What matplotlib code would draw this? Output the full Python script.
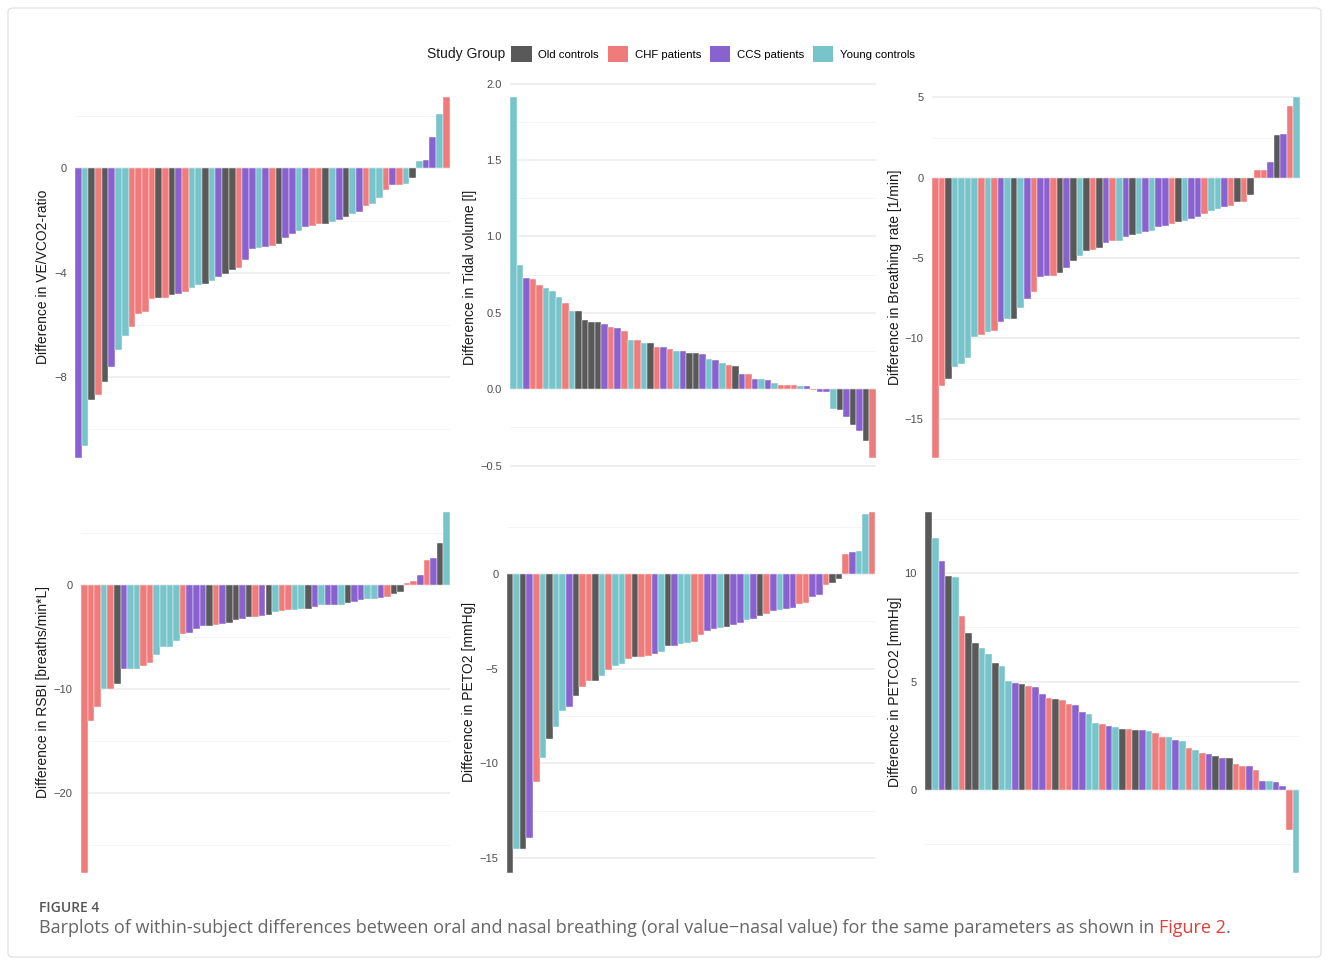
import matplotlib
matplotlib.use("Agg")
from matplotlib import pyplot as plt
from matplotlib.patches import Patch, FancyBboxPatch

W, H = 1329, 961

groups = ["Old controls", "CHF patients", "CCS patients", "Young controls"]
group_colors = {"O": "#595959", "C": "#F07B7B", "S": "#8A62CF", "Y": "#77C4CA"}

# panel 1: VE/VCO2-ratio
ve_vals = [-11.1, -10.65, -8.88, -8.69, -8.2, -7.6, -6.96, -6.43, -6.07, -5.58,
           -5.5, -5.0, -4.96, -4.96, -4.86, -4.82, -4.73, -4.6, -4.47, -4.42,
           -4.32, -4.15, -4.04, -3.9, -3.8, -3.51, -3.1, -3.04, -3.0, -2.98,
           -2.9, -2.68, -2.52, -2.39, -2.24, -2.2, -2.15, -2.13, -2.07, -1.96,
           -1.87, -1.73, -1.66, -1.43, -1.38, -1.12, -0.83, -0.63, -0.63, -0.61,
           -0.37, 0.28, 0.31, 1.21, 2.1, 2.75]
ve_grp = "SYOCOSYYCC" "CCOCOSCYYO" "YSOOCSSYSC" "OSSYSCCOYS" "OYSCYYCSCY" "OYSSYC"

# panel 2: tidal volume
vt_vals = [1.915, 0.812, 0.731, 0.72, 0.681, 0.662, 0.642, 0.603, 0.561, 0.509,
           0.509, 0.452, 0.441, 0.441, 0.43, 0.41, 0.402, 0.38, 0.321, 0.321,
           0.301, 0.301, 0.279, 0.279, 0.26, 0.251, 0.251, 0.24, 0.24, 0.229,
           0.2, 0.19, 0.17, 0.157, 0.151, 0.1, 0.1, 0.068, 0.068, 0.057,
           0.039, 0.028, 0.028, 0.028, 0.02, 0.02, -0.005, -0.02, -0.02, -0.127,
           -0.133, -0.183, -0.234, -0.275, -0.34, -0.45]
vt_grp = "YYSCCYYYCY" "OOOOSCSCYC" "YOCSCYSOOS" "YSYCOSCSYS" "YCCCYSCSSY" "OSOSOC"

# panel 3: breathing rate
bf_vals = [-17.43, -12.95, -12.53, -11.8, -11.6, -11.2, -9.88, -9.79, -9.6, -9.54,
           -9.0, -8.8, -8.76, -8.09, -7.53, -7.14, -6.2, -6.14, -6.12, -5.91,
           -5.64, -5.17, -4.85, -4.54, -4.5, -4.4, -4.07, -3.92, -3.92, -3.69,
           -3.57, -3.5, -3.38, -3.3, -3.09, -3.01, -2.88, -2.78, -2.7, -2.55,
           -2.45, -2.28, -2.05, -1.95, -1.8, -1.74, -1.49, -1.49, -1.08, 0.45,
           0.48, 0.95, 2.66, 2.7, 4.46, 5.04]
bf_grp = "CCOYYYYCYC" "SYOYSCSSCO" "SOYOCOSCYS" "OYSYSSCOYS" "SCYYSCOCOC" "CSOSCY"

# panel 4: RSBI
rsbi_vals = [-27.7, -13.07, -11.78, -9.98, -9.98, -9.53, -8.12, -8.12, -8.06, -7.77,
             -7.51, -6.77, -5.97, -5.94, -5.43, -4.69, -4.62, -4.27, -3.98, -3.98,
             -3.88, -3.79, -3.69, -3.4, -3.27, -3.11, -3.05, -2.99, -2.92, -2.63,
             -2.5, -2.44, -2.38, -2.34, -2.28, -2.15, -1.96, -1.96, -1.96, -1.89,
             -1.77, -1.61, -1.44, -1.38, -1.32, -1.22, -1.12, -0.87, -0.64, 0.16,
             0.39, 0.93, 2.41, 2.63, 4.01, 7.06]
rsbi_grp = "CCCYCOSYYC" "CYYYYCSSSO" "CSOOSOCSOY" "CCYYOSYSSY" "OSSYYSCOOC" "CSCSOY"

# panel 5: PETO2
peto2_vals = [-15.76, -14.49, -14.49, -13.91, -11.0, -9.69, -8.69, -8.05, -7.21, -7.03,
              -6.44, -5.98, -5.64, -5.64, -5.36, -5.06, -4.85, -4.75, -4.5, -4.4,
              -4.38, -4.33, -4.2, -4.1, -3.8, -3.78, -3.68, -3.62, -3.6, -3.2,
              -3.0, -2.9, -2.83, -2.8, -2.7, -2.58, -2.41, -2.36, -2.23, -2.11,
              -1.95, -1.9, -1.85, -1.78, -1.58, -1.51, -1.23, -1.09, -0.56, -0.47,
              -0.25, 1.04, 1.18, 1.21, 3.15, 3.29]
peto2_grp = "OYOSCYOYYS" "OCCOYCYYCO" "CCSYOSYYCC" "SSYOSSYSOC" "SYSSCCSSCO" "OCSYYC"

# panel 6: PETCO2
petco2_vals = [12.83, 11.6, 10.57, 9.86, 9.82, 8.03, 7.22, 6.76, 6.54, 6.27,
               5.84, 5.73, 5.02, 4.93, 4.9, 4.79, 4.75, 4.44, 4.24, 4.19,
               4.15, 3.95, 3.92, 3.58, 3.49, 3.1, 3.04, 2.93, 2.89, 2.83,
               2.8, 2.78, 2.77, 2.7, 2.61, 2.46, 2.43, 2.29, 2.27, 1.94,
               1.83, 1.71, 1.66, 1.55, 1.49, 1.47, 1.18, 1.12, 1.12, 0.92,
               0.43, 0.41, 0.38, 0.2, -1.84, -3.81]
petco2_grp = "OYSOYCOOYY" "OYYSOCSSCO" "CCSSYYCSYO" "COSYCCYSYC" "YCSOSOCCSC" "SYSSCY"

panels = [
    # values, groups, y label, major ticks, minor ticks, tick labels, box (l, t, r, b) px
    (ve_vals, ve_grp, "Difference in VE/VCO2-ratio", [-8, -4, 0], [-10, -6, -2, 2],
     ["\u22128", "\u22124", "0"], (75, 78.6, 449.5, 476)),
    (vt_vals, vt_grp, "Difference in Tidal volume [l]", [-0.5, 0, 0.5, 1.0, 1.5, 2.0],
     [-0.25, 0.25, 0.75, 1.25, 1.75], ["\u22120.5", "0.0", "0.5", "1.0", "1.5", "2.0"],
     (510, 78.6, 875.7, 476)),
    (bf_vals, bf_grp, "Difference in Breathing rate [1/min]", [-15, -10, -5, 0, 5],
     [-17.5, -12.5, -7.5, -2.5, 2.5], ["\u221215", "\u221210", "\u22125", "0", "5"],
     (932, 78.6, 1300, 476)),
    (rsbi_vals, rsbi_grp, "Difference in RSBI [breaths/min*L]", [-20, -10, 0],
     [-25, -15, -5, 5], ["\u221220", "\u221210", "0"], (81, 493.6, 450, 890.7)),
    (peto2_vals, peto2_grp, "Difference in PETO2 [mmHg]", [-15, -10, -5, 0],
     [-12.5, -7.5, -2.5, 2.5], ["\u221215", "\u221210", "\u22125", "0"],
     (506.7, 493.6, 875.3, 890.7)),
    (petco2_vals, petco2_grp, "Difference in PETCO2 [mmHg]", [0, 5, 10],
     [-2.5, 2.5, 7.5, 12.5], ["0", "5", "10"], (925.3, 493.6, 1299.3, 890.7)),
]
ylabel_x = [43, 470, 895, 43, 469, 895]

plt.rcParams["font.family"] = ["Liberation Sans", "DejaVu Sans"]

fig = plt.figure(figsize=(W / 100, H / 100), dpi=100)

for i, (vals, grp, ylab, major, minor, ticklab, box) in enumerate(panels):
    l, t, r, b = box
    ax = fig.add_axes([l / W, 1 - b / H, (r - l) / W, (b - t) / H])
    x = list(range(len(vals)))
    cols = [group_colors[g] for g in grp]
    ax.bar(x, vals, width=1.0, color=cols, edgecolor="white", linewidth=0.3, zorder=3)
    lo, hi = min(vals), max(vals)
    pad = 0.05 * (hi - lo)
    ax.set_ylim(lo - pad, hi + pad)
    ax.set_xlim(-0.5, len(vals) - 0.5)
    ax.set_yticks(major)
    ax.set_yticklabels(ticklab)
    ax.set_yticks(minor, minor=True)
    ax.set_xticks([])
    ax.grid(axis="y", which="major", color="#EBEBEB", linewidth=1.1, zorder=0)
    ax.grid(axis="y", which="minor", color="#F3F3F3", linewidth=0.6, zorder=0)
    ax.tick_params(axis="y", which="both", length=0, pad=6, labelsize=8, labelcolor="#4D4D4D")
    for s in ax.spines.values():
        s.set_visible(False)
    ax.set_facecolor("white")
    fig.text(ylabel_x[i] / W, 1 - ((t + b) / 2) / H, ylab, rotation=90,
             ha="center", va="center", fontsize=10, color="#1A1A1A")

# legend
handles = [Patch(facecolor=group_colors[k], edgecolor="none") for k in "OCSY"]
fig.text(505 / W, 1 - 54 / H, "Study Group", ha="right", va="center", fontsize=10, color="#1A1A1A")
fig.legend(handles, groups, loc="center left", bbox_to_anchor=(511 / W, 1 - 54 / H),
           ncol=4, frameon=False, fontsize=8.2, handlelength=1.8, handleheight=1.8,
           handletextpad=0.6, columnspacing=0.75, borderpad=0, borderaxespad=0)

# caption
fig.text(39 / W, 1 - 908 / H, "FIGURE 4", ha="left", va="center", fontsize=10,
         color="#555555", family="Open Sans", fontweight="semibold")
cap = fig.text(39 / W, 1 - 928 / H,
               "Barplots of within-subject differences between oral and nasal breathing "
               "(oral value\u2212nasal value) for the same parameters as shown in ",
               ha="left", va="center", fontsize=13, color="#666666", family="Open Sans")
fig.canvas.draw()
bb = cap.get_window_extent(renderer=fig.canvas.get_renderer())
ref = fig.text(bb.x1 / W, 1 - 928 / H, "Figure 2", ha="left", va="center",
               fontsize=13, color="#E0403A", family="Open Sans")
bb2 = ref.get_window_extent(renderer=fig.canvas.get_renderer())
fig.text(bb2.x1 / W, 1 - 928 / H, ".", ha="left", va="center", fontsize=13,
         color="#666666", family="Open Sans")

# outer frame
frame = FancyBboxPatch((8 / W, 4 / H), 1313 / W, 949 / H, boxstyle="round,pad=0,rounding_size=0.004",
                       transform=fig.transFigure, fill=False, edgecolor="#DDDDDD", linewidth=0.8)
fig.patches.append(frame)

fig.savefig("out.png", dpi=100)
